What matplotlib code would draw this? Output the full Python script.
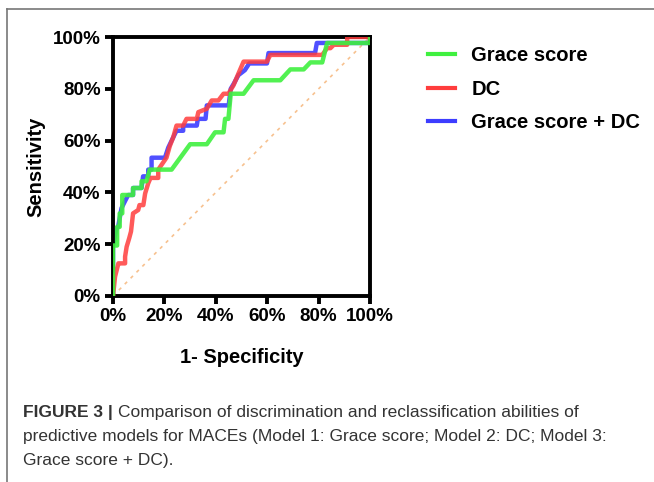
import matplotlib.pyplot as plt
from matplotlib.lines import Line2D

# ROC points (false positive rate %, sensitivity %)
grace_fpr = [0, 0, 1.6, 1.6, 2.6, 2.6, 3.6, 3.6, 7.8, 7.8, 11.1, 11.1, 13.0, 14.3, 22.8,
             30.0, 36.5, 39.7, 43.0, 43.6, 44.9, 45.8, 50.8, 54.7, 65.1, 69.0, 74.2,
             76.8, 81.4, 83.3, 100, 100]
grace_tpr = [0, 19.5, 19.5, 26.7, 26.7, 31.9, 31.9, 39.0, 39.0, 41.7, 41.7, 44.3, 44.3,
             48.8, 48.8, 58.6, 58.6, 63.2, 63.2, 68.4, 68.4, 78.1, 78.1, 83.3, 83.3,
             87.5, 87.5, 90.2, 90.2, 97.7, 97.7, 100]

dc_fpr = [0, 0.8, 2.1, 2.7, 4.7, 4.7, 5.3, 6.3, 7.0, 7.8, 9.8, 10.3, 11.8, 12.5, 13.7,
          14.6, 17.6, 17.6, 20.8, 22.1, 23.4, 24.7, 27.3, 28.6, 32.6, 33.2, 36.5,
          38.4, 41.0, 43.0, 44.9, 46.9, 48.8, 50.8, 59.9, 61.2, 81.4, 83.3, 84.6,
          85.9, 91.1, 91.1, 100]
dc_tpr = [0, 7.5, 12.6, 12.6, 12.6, 15.2, 19.0, 22.3, 24.9, 31.9, 33.2, 35.1, 35.1,
          39.6, 43.5, 45.6, 45.6, 48.8, 53.4, 57.9, 61.2, 65.8, 65.8, 68.4, 68.4,
          71.0, 72.3, 75.5, 75.5, 78.1, 78.1, 81.4, 85.9, 90.5, 90.5, 93.1, 93.1,
          95.7, 95.7, 97.0, 97.0, 100, 100]

combo_fpr = [0, 0, 1.3, 2.0, 3.3, 4.6, 5.9, 7.8, 7.8, 11.1, 11.7, 13.7, 13.7, 15.0, 15.0,
             20.2, 21.5, 23.4, 24.7, 27.3, 27.3, 32.6, 33.0, 36.0, 36.5, 45.0, 45.8,
             47.0, 48.8, 51.3, 53.0, 59.9, 60.5, 78.6, 79.3, 100, 100]
combo_tpr = [0, 19.5, 26.0, 26.7, 33.9, 36.5, 39.0, 39.0, 41.7, 41.7, 46.2, 46.2, 48.8,
             48.8, 53.4, 53.4, 57.3, 61.2, 63.8, 63.8, 65.8, 65.8, 68.4, 68.4, 73.6,
             73.6, 80.0, 82.0, 85.3, 87.2, 89.8, 89.8, 93.8, 93.8, 97.7, 97.7, 100]

ticks = [0, 20, 40, 60, 80, 100]
tick_labels = ['0%', '20%', '40%', '60%', '80%', '100%']

green = '#3ff03f'
red = '#ff3d3d'
blue = '#3d3dff'

plt.rcParams['font.family'] = ['Liberation Sans', 'DejaVu Sans']

fig = plt.figure(figsize=(6.54, 4.82), dpi=100)
ax = fig.add_axes([0.1728, 0.3859, 0.3930, 0.5373])

ax.plot([0, 100], [0, 100], color='#f7c18f', lw=1.2, ls=(0, (2, 3)), zorder=1)
ax.plot(combo_fpr, combo_tpr, color=blue, lw=3.2, alpha=0.9, zorder=2)
ax.plot(dc_fpr, dc_tpr, color=red, lw=3.2, alpha=0.85, zorder=3)
ax.plot(grace_fpr, grace_tpr, color=green, lw=3.2, alpha=0.9, zorder=4)

ax.set_xlim(0, 100)
ax.set_ylim(0, 100)
ax.set_xticks(ticks)
ax.set_xticklabels(tick_labels)
ax.set_yticks(ticks)
ax.set_yticklabels(tick_labels)
for s in ax.spines.values():
    s.set_linewidth(2.8)
ax.tick_params(width=2.8, length=6, labelsize=13.5, pad=3)
for lab in ax.get_xticklabels() + ax.get_yticklabels():
    lab.set_fontweight('bold')
ax.set_xlabel('1- Specificity', fontsize=14.5, fontweight='bold', labelpad=16)
ax.set_ylabel('Sensitivity', fontsize=14.5, fontweight='bold', labelpad=5)

handles = [Line2D([], [], color=green, lw=3),
           Line2D([], [], color=red, lw=3),
           Line2D([], [], color=blue, lw=3)]
fig.legend(handles, ['Grace score', 'DC', 'Grace score + DC'],
           loc='upper left', bbox_to_anchor=(0.627, 0.942), frameon=False,
           prop={'weight': 'bold', 'size': 14.5}, handlelength=1.35,
           handletextpad=0.8, labelspacing=0.72)

# figure frame (left and top)
fig.add_artist(Line2D([0.011, 0.011], [0, 0.981], color='#777777', lw=1.2))
fig.add_artist(Line2D([0.011, 1], [0.981, 0.981], color='#777777', lw=1.2))

cap_x = 23 / 654
cap_size = 12.5
head = fig.text(cap_x, 1 - 405 / 482, 'FIGURE 3 |', fontsize=cap_size,
                fontweight='bold', color='#333333', va='top')
fig.canvas.draw()
bb = head.get_window_extent().transformed(fig.transFigure.inverted())
fig.text(bb.x1 + 5 / 654, 1 - 405 / 482,
         'Comparison of discrimination and reclassification abilities of',
         fontsize=cap_size, color='#333333', va='top')
fig.text(cap_x, 1 - 429 / 482,
         'predictive models for MACEs (Model 1: Grace score; Model 2: DC; Model 3:',
         fontsize=cap_size, color='#333333', va='top')
fig.text(cap_x, 1 - 453 / 482, 'Grace score + DC).', fontsize=cap_size,
         color='#333333', va='top')

fig.savefig('out.png', dpi=100)
